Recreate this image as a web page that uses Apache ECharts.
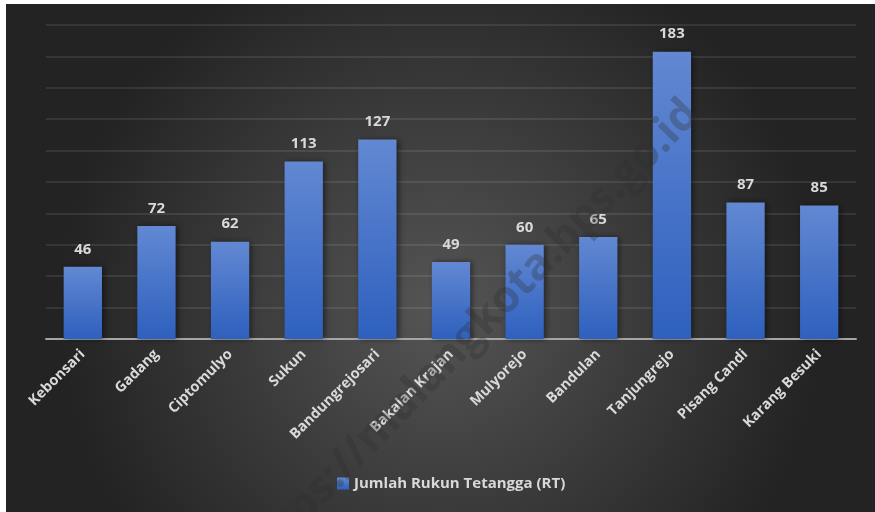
<!DOCTYPE html>
<html>
<head>
<meta charset="utf-8">
<script src="https://cdn.jsdelivr.net/npm/echarts@6/dist/echarts.min.js"></script>
<style>
  html, body { margin: 0; padding: 0; background: #fff; }
  #main { width: 875px; height: 512px; }
</style>
</head>
<body>
<div id="main"></div>
<script>
// data
const kelurahan = ['Kebonsari', 'Gadang', 'Ciptomulyo', 'Sukun', 'Bandungrejosari', 'Bakalan Krajan',
  'Mulyorejo', 'Bandulan', 'Tanjungrejo', 'Pisang Candi', 'Karang Besuki']
const jumlahRT = [46, 72, 62, 113, 127, 49, 60, 65, 183, 87, 85]
const seriesName = 'Jumlah Rukun Tetangga (RT)'

const font = '"Open Sans", sans-serif'
const textColor = '#d9d9d9'

const chart = echarts.init(document.getElementById('main'))
chart.setOption({
  backgroundColor: '#fff',
  animation: false,
  graphic: [{
    type: 'rect',
    z: -10,
    shape: { x: 6, y: 4, width: 869, height: 508 },
    style: {
      fill: {
        type: 'radial', x: 0.5, y: 0.6, r: 0.75,
        colorStops: [
          { offset: 0, color: '#555555' },
          { offset: 1, color: '#232323' }
        ]
      }
    }
  }, {
    // watermark, drawn over the bars
    type: 'text',
    z: 100,
    x: 470, y: 336,
    rotation: 0.80,
    style: {
      text: 'https://malangkota.bps.go.id',
      font: 'bold 44px ' + font,
      fill: 'rgba(45,45,45,0.3)',
      align: 'center',
      verticalAlign: 'middle'
    }
  }],
  grid: { left: 46, right: 19, top: 25, bottom: 173 },
  legend: {
    bottom: 16,
    left: 332,
    icon: 'rect',
    itemWidth: 12,
    itemHeight: 12,
    itemGap: 4,
    textStyle: { color: textColor, fontFamily: font, fontWeight: 'bold', fontSize: 15 },
    data: [seriesName]
  },
  xAxis: {
    type: 'category',
    data: kelurahan,
    axisTick: { show: false },
    axisLine: { lineStyle: { color: '#a6a6a6', width: 2 } },
    axisLabel: {
      rotate: 45,
      margin: 13,
      interval: 0,
      color: textColor,
      fontFamily: font,
      fontWeight: 'bold',
      fontSize: 14.5
    }
  },
  yAxis: {
    type: 'value',
    min: 0,
    max: 200,
    interval: 20,
    axisLabel: { show: false },
    axisLine: { show: false },
    axisTick: { show: false },
    splitLine: { lineStyle: { color: 'rgba(255,255,255,0.12)', width: 1.5 } }
  },
  series: [{
    name: seriesName,
    type: 'bar',
    data: jumlahRT,
    barWidth: '52%',
    itemStyle: {
      color: {
        type: 'linear', x: 0, y: 0, x2: 0, y2: 1,
        colorStops: [
          { offset: 0, color: '#6288d2' },
          { offset: 1, color: '#2e60be' }
        ]
      },
      shadowColor: 'rgba(0,0,0,0.5)',
      shadowBlur: 6,
      shadowOffsetX: 2
    },
    label: {
      show: true,
      position: 'top',
      distance: 10,
      color: textColor,
      fontFamily: font,
      fontWeight: 'bold',
      fontSize: 15
    }
  }]
})
</script>
</body>
</html>
